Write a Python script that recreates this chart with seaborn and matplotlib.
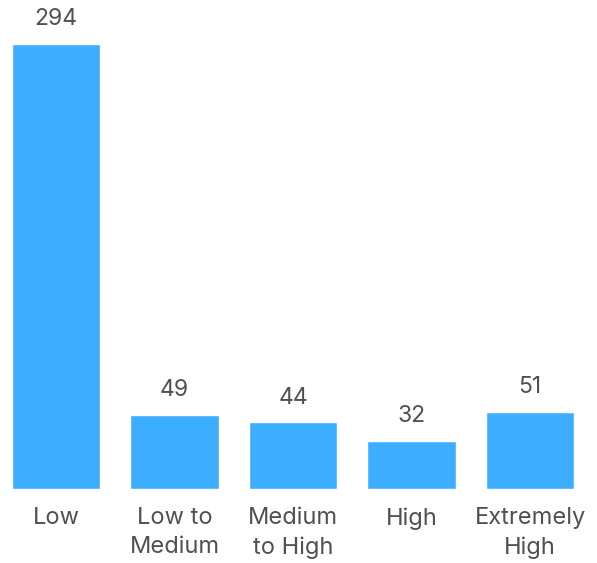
import matplotlib
matplotlib.use("Agg")
import matplotlib.pyplot as plt
import seaborn as sns
import pandas as pd

# Data
categories = ["Low", "Low to\nMedium", "Medium\nto High", "High", "Extremely\nHigh"]
counts = [294, 49, 44, 32, 51]

df = pd.DataFrame({"category": categories, "count": counts})

sns.set_style("white")
plt.rcParams["font.family"] = ["Inter", "DejaVu Sans"]

fig = plt.figure(figsize=(5.97, 5.63), dpi=100)
ax = fig.add_axes([0, 0.1315, 1, 0.8685])

sns.barplot(data=df, x="category", y="count", color="#3DAEFF", saturation=1,
            width=0.745, ax=ax)

ax.set_xlim(-0.4726, 4.565)
ax.set_ylim(0, 323)

for i, v in enumerate(counts):
    ax.text(i, v + 9, str(v), ha="center", va="bottom", fontsize=16.5,
            color="#505050")

ax.set_xlabel("")
ax.set_ylabel("")
ax.set_yticks([])
ax.tick_params(axis="x", length=0, pad=13, labelsize=17, labelcolor="#505050")
for lbl in ax.get_xticklabels():
    lbl.set_linespacing(1.4)
sns.despine(ax=ax, left=True, bottom=True)

fig.savefig("out.png", dpi=100)
